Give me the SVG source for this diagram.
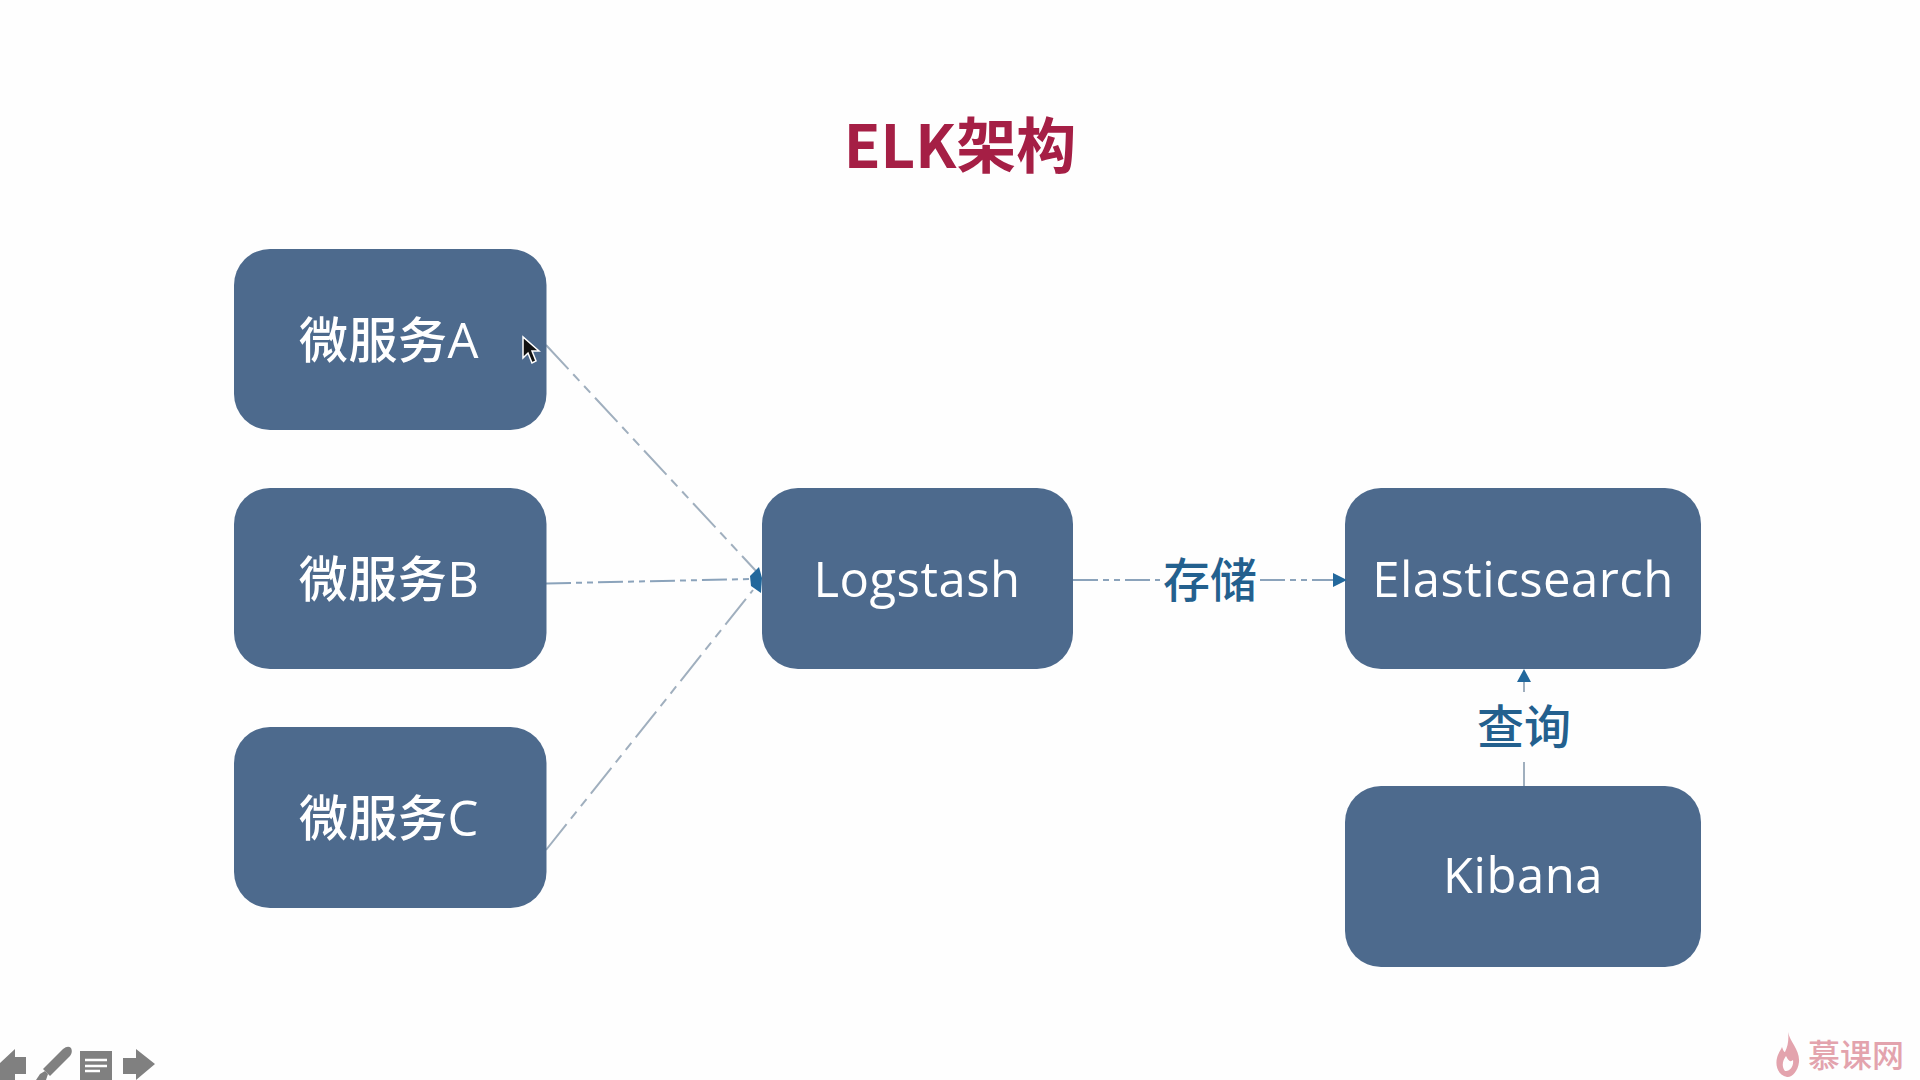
<svg xmlns="http://www.w3.org/2000/svg" width="1920" height="1080" viewBox="0 0 1920 1080">
<style>
.node{fill:#4d6a8d}
.nt{fill:#fff;font-family:"Open Sans","Noto Sans CJK SC",sans-serif;font-size:49px;font-weight:500;text-anchor:middle;letter-spacing:.5px}
.lab{fill:#23608e;font-family:"Open Sans","Noto Sans CJK SC",sans-serif;font-size:47px;font-weight:500;text-anchor:middle}
.c{fill:none;stroke:#8ba3bb;stroke-width:2;stroke-dasharray:25 5 6 5 6 5}
.d{stroke:#a0afbe;stroke-dasharray:33 7 9 7 9 7}
.s{stroke:#a0afbe;stroke-dasharray:none}
.ah{fill:#23689c}
.tb{fill:#808080}
</style>
<rect width="1920" height="1080" fill="#fefefe"/>
<text id="title" x="960" y="168" font-family="'Noto Sans CJK SC',sans-serif" font-weight="700" font-size="60" fill="#a51f45" text-anchor="middle">ELK架构</text>
<g id="connectors">
<path class="c d" d="M546 345L756 571"/>
<path class="c" d="M546 583.500L750 579"/>
<path class="c d" d="M546 850L753 590"/>
<path class="c" d="M1073 580H1160"/>
<path class="c" d="M1260 580H1335"/>
<path class="c s" d="M1524 786V762"/>
<path class="c s" d="M1524 692V682"/>
</g>
<g id="node-a"><rect class="node" x="234" y="249" width="312.500" height="181" rx="36"/><text class="nt" x="389" y="358">微服务A</text></g>
<g id="node-b"><rect class="node" x="234" y="488" width="312.500" height="181" rx="36"/><text class="nt" x="389" y="597">微服务B</text></g>
<g id="node-c"><rect class="node" x="234" y="727" width="312.500" height="181" rx="36"/><text class="nt" x="389" y="836">微服务C</text></g>
<g id="node-logstash"><rect class="node" x="762" y="488" width="311" height="181" rx="36"/><text class="nt" x="917" y="597">Logstash</text></g>
<g id="node-elasticsearch"><rect class="node" x="1345" y="488" width="356" height="181" rx="36"/><text class="nt" x="1523" y="597">Elasticsearch</text></g>
<g id="node-kibana"><rect class="node" x="1345" y="786" width="356" height="181" rx="36"/><text class="nt" x="1523" y="893">Kibana</text></g>
<g id="arrowheads">
<path class="ah" d="M750 576L759 567L762 578L761 593L751 586Z"/>
<path class="ah" d="M1333 573L1347 580L1333 587Z"/>
<path class="ah" d="M1524 669L1531 682H1517Z"/>
</g>
<text id="label-store" class="lab" x="1210" y="597">存储</text>
<text id="label-query" class="lab" x="1524" y="744">查询</text>
<path id="cursor" d="M523 337V358L528 353L532 363L536 361L532 351L539 351Z" fill="#111" stroke="#fff" stroke-width="1.500"/>
<g id="toolbar">
<path class="tb" d="M0 1063L15 1049V1057H26V1074H15V1080H0Z"/>
<path class="tb" d="M36 1080L40 1074L45 1071L48 1074L46 1080Z"/>
<path class="tb" d="M43 1069L63 1049Q68 1045 71 1048Q73 1052 70 1056L50 1076Z"/>
<rect class="tb" x="80" y="1051" width="32" height="29"/>
<path d="M85 1060H107M85 1066H107M85 1071H100" stroke="#fff" stroke-width="2.500"/>
<path class="tb" d="M123 1058H136V1049L155 1064L136 1080V1074H123Z"/>
</g>
<g id="watermark" fill="#e3a3ad">
<path fill-rule="evenodd" d="M1788 1032C1790 1042 1800 1050 1799 1062C1798 1072 1791 1078 1787 1077C1778 1075 1775 1066 1777 1058C1778 1053 1781 1050 1782 1047C1783 1050 1784 1052 1785 1052C1788 1046 1789 1039 1788 1032ZM1786 1056C1783 1060 1781 1066 1785 1071C1790 1072 1794 1066 1793 1060C1791 1062 1789 1062 1786 1056Z"/>
<text x="1856" y="1067" font-family="'Noto Sans CJK SC',sans-serif" font-size="32" font-weight="500" text-anchor="middle">慕课网</text>
</g>
</svg>
